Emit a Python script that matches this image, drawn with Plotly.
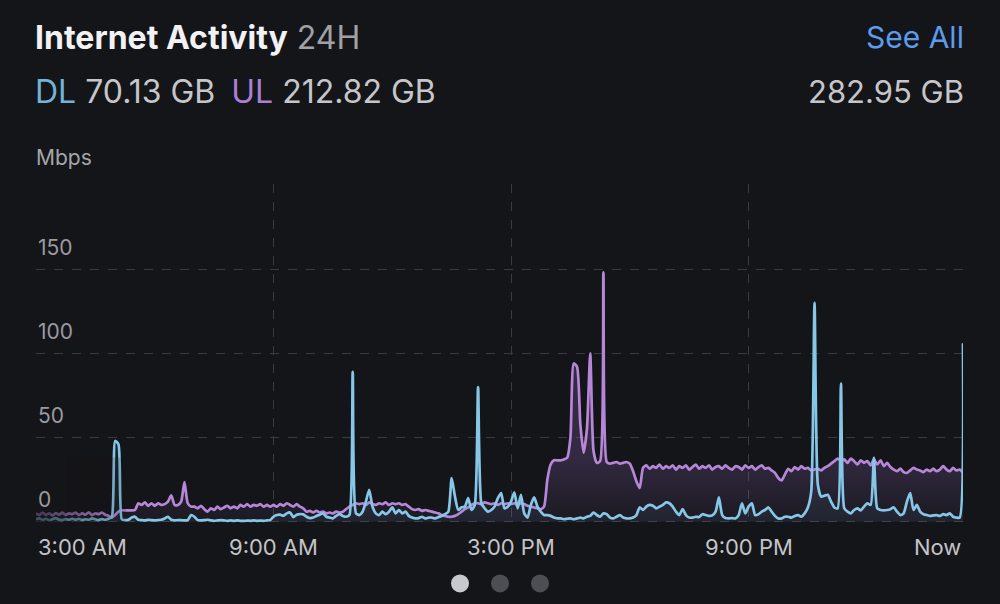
import pandas as pd
import plotly.graph_objects as go

# 5-minute samples starting 3:00 AM, one row per hour (Mbps)
dl_mbps = [
    1.5, 2, 1.2, 1.8, 1, 1.5, 2.2, 1.3, 1, 1.6, 1.2, 1.8,
    1.2, 1.8, 1, 1.5, 1.2, 2, 1.4, 1, 1.6, 1.2, 1.8, 3,
    48, 46, 1.5, 1, 1.2, 2.5, 3, 1.2, 1, 0.8, 1.2, 1,
    0.8, 1, 1.2, 2, 3, 1.2, 0.8, 1, 1, 0.8, 1, 4,
    3, 1, 0.8, 1, 1.2, 0.8, 0.6, 0.8, 1, 0.8, 0.6, 0.8,
    0.6, 0.8, 0.6, 0.5, 0.7, 0.6, 0.8, 0.6, 0.7, 0.6, 0.8, 1,
    3, 4, 4.2, 3.6, 5, 5.5, 2.8, 4.2, 4.6, 4.4, 3, 2.2,
    2.5, 3.5, 4.2, 5, 3, 2.5, 2, 3.5, 4.5, 3.5, 3, 4,
    89, 5, 4, 6, 12, 19, 9, 5, 4, 6, 4.5, 6,
    8.5, 5, 7, 5, 6, 3.5, 2.5, 2, 2.2, 3, 2, 2.5,
    2.5, 2, 2.8, 3.5, 4.5, 6, 26, 15, 7, 8.6, 9, 14,
    7, 10, 80, 11, 8, 6, 7, 9, 14, 17, 8, 9,
    12, 17.5, 8, 16, 5, 2.5, 10, 14.5, 9, 6, 4, 4,
    3.5, 2.5, 2, 2, 1.5, 1.8, 2, 1.5, 2, 2.5, 2, 3,
    3.5, 5.5, 4, 3, 5, 4.5, 2.5, 2, 3, 4, 2.5, 2,
    2, 2.5, 4, 8.6, 7, 9, 10, 9.5, 8, 9, 10, 11.5,
    11, 9, 6, 4, 7.5, 4, 2.5, 2.5, 3, 2.8, 4.5, 4,
    3.5, 3.8, 6, 14.5, 4, 2.2, 2, 2.2, 2, 4, 11, 5,
    9, 11, 4, 4.5, 6, 7, 8.5, 6, 3.5, 2, 2, 3,
    3, 2.5, 3.5, 4, 3, 5, 8.6, 18, 130, 22, 15, 15.5,
    16, 12, 8.5, 8, 82, 8, 6, 5, 7, 8, 6.8, 9,
    11, 10, 38, 8, 7, 6.8, 7, 7.5, 8.6, 6, 4, 5,
    12, 17, 7, 10, 6, 4.5, 4, 3.5, 3.8, 4, 3.5, 4.5,
    4, 5, 3, 2.5, 2.5, 106,
]

ul_mbps = [
    5, 4, 5.5, 4, 5, 3.8, 5.2, 4.2, 5.5, 4, 5, 4.5,
    5.5, 4, 5, 4.2, 5.6, 4, 5, 4.5, 5.5, 4.2, 3.5, 2.5,
    4, 6, 6.8, 6.8, 6.8, 6.8, 7, 11, 10, 11.5, 9.5, 11,
    9.5, 11, 10, 10.5, 12, 15.7, 10, 10, 12, 23.5, 11, 9,
    9, 8, 9.5, 7.5, 6, 8, 7, 9, 7.5, 8.5, 9.5, 8,
    9, 8, 10, 9, 10.5, 9, 10, 9.5, 10.5, 9, 10, 9,
    10, 9, 10.5, 9.5, 11, 10, 9, 10.5, 9, 8, 6, 6.5,
    5.5, 6.5, 5.5, 6, 5, 5.5, 5, 6, 5.5, 6, 7.5, 9,
    10, 11, 10.5, 11, 10, 11.5, 10.5, 10, 11, 10.5, 11.5, 10,
    11, 10.5, 11, 10, 10.5, 9, 7.5, 7, 7.5, 6.5, 7, 6.5,
    6, 5.5, 5, 4, 3.5, 3, 3, 3.5, 4.5, 6, 7.5, 8.5,
    10, 11, 11, 10.5, 11.5, 11, 10.5, 11, 10, 11, 10.5, 11,
    10.5, 11, 10, 11, 10.5, 9.5, 9, 8.5, 8, 7.5, 9, 25,
    34, 36.5, 36.5, 36.5, 37, 38, 50, 94, 92, 58, 41, 55,
    100, 42, 35, 36, 148, 35.5, 34.5, 35, 35.5, 34.5, 35, 35.5,
    34.5, 30, 24, 20, 32, 33.5, 31.5, 33, 32, 34, 31.5, 33,
    32, 33.5, 31, 33, 32, 33.5, 31, 32.5, 34, 31.5, 33, 32,
    33.5, 31, 32.5, 33, 31.5, 33.5, 32, 31, 33, 32.5, 31, 33.5,
    32, 33, 31, 32.5, 33.5, 31.5, 32, 30.5, 29, 26, 24.5, 28,
    31.5, 30, 32.5, 31, 33, 31.5, 32, 30.5, 31, 31.5, 30.5, 32,
    33, 34.5, 36, 37.5, 36, 37, 35, 37.5, 36, 34, 36.5, 35,
    36, 33.5, 37, 34, 36.5, 33, 35, 32.5, 31, 30, 31.5, 29.5,
    29, 30.5, 32, 31, 30.5, 29.5, 31, 30, 31.5, 30, 31, 33,
    31, 30, 32, 30.5, 31, 29,
]

x_tick_labels = ["3:00 AM", "9:00 AM", "3:00 PM", "9:00 PM", "Now"]
grid_times = ["2024-05-01 09:00", "2024-05-01 15:00", "2024-05-01 21:00"]
y_tick_vals = [0, 50, 100, 150]

dl_total = "70.13 GB"
ul_total = "212.82 GB"
all_total = "282.95 GB"

BG = "#141518"
GRID = "#3a3b41"
DL_COLOR = "#86c6e6"
UL_COLOR = "#b786d9"
FONT = "Inter, Roboto, sans-serif"

times = pd.date_range("2024-05-01 03:00", periods=len(dl_mbps), freq="5min")

fig = go.Figure()

# upload area (purple) drawn first, download on top
fig.add_trace(go.Scatter(
    x=times, y=ul_mbps, mode="lines",
    line=dict(color=UL_COLOR, width=2.7, shape="spline", smoothing=0.6),
    fill="tozeroy",
    fillgradient=dict(type="vertical", start=0, stop=40,
                      colorscale=[[0, "rgba(150,110,200,0.05)"],
                                  [1, "rgba(150,110,200,0.24)"]]),
    hoverinfo="skip", showlegend=False
))
fig.add_trace(go.Scatter(
    x=times, y=dl_mbps, mode="lines",
    line=dict(color=DL_COLOR, width=2.7, shape="spline", smoothing=0.6),
    fill="tozeroy", fillcolor="rgba(110,170,215,0.08)",
    hoverinfo="skip", showlegend=False
))

# x labels: first is left aligned, last right aligned
label_pos = [times[0]] + list(pd.to_datetime(grid_times)) + [times[-1]]
anchors = ["left", "center", "center", "center", "right"]
for pos, txt, anc in zip(label_pos, x_tick_labels, anchors):
    fig.add_annotation(
        x=pos, xref="x", y=0, yref="paper", yanchor="middle", yshift=-21,
        xanchor=anc, text=txt, showarrow=False,
        font=dict(size=22, color="#c4c4c8", family=FONT)
    )

# y labels sit just above their grid line
for v in y_tick_vals:
    fig.add_annotation(
        x=0, xref="paper", y=v, yref="y", xanchor="left", yanchor="middle",
        yshift=22, text=str(v), showarrow=False,
        font=dict(size=21, color="#9a9aa0", family=FONT)
    )

# header texts
fig.add_annotation(
    x=0, xref="paper", y=1, yref="paper", xanchor="left", yanchor="middle",
    xshift=-3, yshift=147, showarrow=False,
    text="<b>Internet Activity</b> <span style='color:#a0a0a6'>24H</span>",
    font=dict(size=32, color="#f2f2f4", family=FONT)
)
fig.add_annotation(
    x=0, xref="paper", y=1, yref="paper", xanchor="left", yanchor="middle",
    xshift=-3, yshift=93, showarrow=False,
    text=(f"<span style='color:#72b3da'>DL</span> {dl_total}\u2002"
          f"<span style='color:#a97fd4'>UL</span> {ul_total}"),
    font=dict(size=32, color="#c6c6ca", family=FONT)
)
fig.add_annotation(
    x=1, xref="paper", y=1, yref="paper", xanchor="right", yanchor="middle",
    xshift=3, yshift=147, showarrow=False, text="See All",
    font=dict(size=30, color="#5d9bec", family=FONT)
)
fig.add_annotation(
    x=1, xref="paper", y=1, yref="paper", xanchor="right", yanchor="middle",
    xshift=3, yshift=93, showarrow=False, text=all_total,
    font=dict(size=31, color="#c6c6ca", family=FONT)
)
fig.add_annotation(
    x=0, xref="paper", y=1, yref="paper", xanchor="left", yanchor="middle",
    xshift=-2, yshift=27, showarrow=False, text="Mbps",
    font=dict(size=21, color="#a5a5aa", family=FONT)
)

# left edge of the chart fades in
for k, op in enumerate([0.65, 0.55, 0.45, 0.35, 0.25, 0.15]):
    fig.add_shape(
        type="rect", xref="paper", yref="paper", layer="above",
        x0=k * 15 / 927, x1=(k + 1) * 15 / 927, y0=0, y1=0.2,
        fillcolor=BG, opacity=op, line=dict(width=0)
    )

# page indicator dots
for i, col in enumerate(["#c8c9ce", "#4b4e53", "#4b4e53"]):
    fig.add_shape(
        type="circle", xref="paper", yref="paper",
        xsizemode="pixel", ysizemode="pixel",
        xanchor=(460 - 36) / 927 + i * 40 / 927, yanchor=-0.168,
        x0=-9, x1=9, y0=-9, y1=9,
        fillcolor=col, line=dict(width=0)
    )

fig.update_xaxes(
    range=[times[0], times[-1]],
    tickvals=pd.to_datetime(grid_times), showticklabels=False,
    showgrid=True, gridcolor=GRID, griddash="dash", gridwidth=1,
    zeroline=False, showline=False, ticks=""
)
fig.update_yaxes(
    range=[-2.5, 200.5], tickvals=[0, 50, 100, 150, 200],
    showticklabels=False, showgrid=True, gridcolor=GRID,
    griddash="dash", gridwidth=1, zeroline=False, showline=False, ticks=""
)

fig.update_layout(
    width=1000, height=604,
    paper_bgcolor=BG, plot_bgcolor=BG,
    margin=dict(l=36, r=37, t=184, b=78),
    showlegend=False,
    hovermode=False
)

fig.write_html(
    "out.html",
    config={"displayModeBar": False},
    post_script="document.body.style.margin='0';"
)
